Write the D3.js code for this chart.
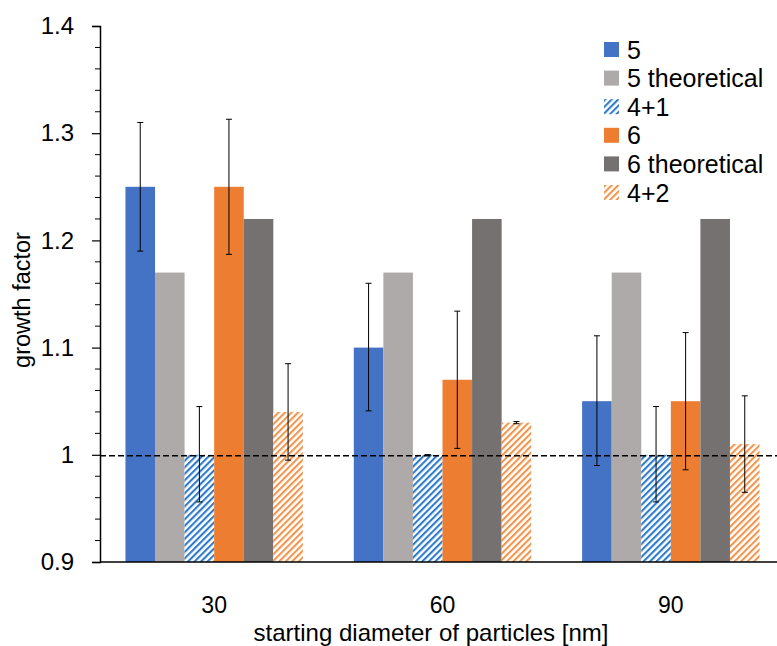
<!DOCTYPE html>
<html><head><meta charset="utf-8">
<script src="https://cdn.jsdelivr.net/npm/d3@7"></script>
<style>body{margin:0;background:#fff}svg{display:block}text{font-family:"Liberation Sans",Arial,sans-serif}</style>
</head><body>
<svg id="c" width="777" height="646"></svg>
<script>
const categories = ["30","60","90"];
const seriesNames = ["5","5 theoretical","4+1","6","6 theoretical","4+2"];
const values = {
  "5":            [1.25, 1.10, 1.05],
  "5 theoretical":[1.17, 1.17, 1.17],
  "4+1":          [1.00, 1.00, 1.00],
  "6":            [1.25, 1.07, 1.05],
  "6 theoretical":[1.22, 1.22, 1.22],
  "4+2":          [1.04, 1.03, 1.01]
};
const errLow = {
  "5":[1.19,1.041,0.99], "4+1":[0.956,1.0,0.956], "6":[1.187,1.006,0.986], "4+2":[0.995,1.029,0.965]
};
const errHigh = {
  "5":[1.31,1.16,1.111], "4+1":[1.045,1.0,1.045], "6":[1.313,1.134,1.114], "4+2":[1.085,1.031,1.055]
};
const yTicks = [0.9,1.0,1.1,1.2,1.3,1.4];
const yTickLabels = ["0.9","1","1.1","1.2","1.3","1.4"];
const baseline = 1.0;

const colors = {"5":"#4472C4","5 theoretical":"#AEAAAA","4+1":"url(#hBlue)","6":"#ED7D31","6 theoretical":"#767171","4+2":"url(#hOrange)"};

const svg = d3.select("#c");
const defs = svg.append("defs");
function hatch(id, col){
  const p = defs.append("pattern").attr("id",id).attr("patternUnits","userSpaceOnUse")
    .attr("width",4.6).attr("height",4.6).attr("patternTransform","rotate(45)");
  p.append("rect").attr("width",4.6).attr("height",4.6).attr("fill","#fff");
  p.append("rect").attr("x",0).attr("width",2.1).attr("height",4.6).attr("fill",col);
}
hatch("hBlue","#2E7CC8");
hatch("hOrange","#F0964E");

const L=100, R=785, T=26, B=562;
const x0 = d3.scaleBand().domain(categories).range([L,R]).paddingInner(0.223).paddingOuter(0.1115);
const x1 = d3.scaleBand().domain(seriesNames).range([0,x0.bandwidth()]);
const y = d3.scaleLinear().domain([0.9,1.4]).range([B,T]);

// bars
const g = svg.append("g");
seriesNames.forEach(s=>{
  g.selectAll(null).data(categories).enter().append("rect")
    .attr("x",c=>x0(c)+x1(s)).attr("width",x1.bandwidth())
    .attr("y",(c,i)=>y(values[s][i])).attr("height",(c,i)=>y(0.9)-y(values[s][i]))
    .attr("fill",colors[s]);
});

// dashed line
svg.append("line").attr("x1",L).attr("x2",777).attr("y1",y(baseline)+1).attr("y2",y(baseline)+1)
  .attr("stroke","#000").attr("stroke-width",1.5).attr("stroke-dasharray","6,3");

// error bars
Object.keys(errLow).forEach(s=>{
  categories.forEach((c,i)=>{
    const cx = x0(c)+x1(s)+x1.bandwidth()/2;
    const lo=y(errLow[s][i]), hi=y(errHigh[s][i]);
    const eg = svg.append("g").attr("stroke","#000").attr("stroke-width",1);
    eg.append("line").attr("x1",cx).attr("x2",cx).attr("y1",lo).attr("y2",hi);
    eg.append("line").attr("x1",cx-3).attr("x2",cx+3).attr("y1",lo).attr("y2",lo);
    eg.append("line").attr("x1",cx-3).attr("x2",cx+3).attr("y1",hi).attr("y2",hi);
  });
});

// y axis
const yAxis = d3.axisLeft(y).tickValues(yTicks).tickFormat((d,i)=>yTickLabels[i]).tickSize(8).tickPadding(18);
const ya = svg.append("g").attr("transform",`translate(${L},0)`).call(yAxis);
ya.select(".domain").attr("stroke","#000").attr("stroke-width",1.5);
ya.selectAll(".tick line").attr("stroke","#000").attr("stroke-width",1.2);
ya.selectAll(".tick text").attr("font-size",24).attr("fill","#000").attr("font-family","Liberation Sans, Arial, sans-serif");
const minor = d3.range(0.92,1.4,0.02).filter(v=>Math.abs(Math.round(v*10)-v*10)>0.01);
svg.append("g").selectAll("line").data(minor).enter().append("line")
  .attr("x1",L-5).attr("x2",L).attr("y1",d=>y(d)).attr("y2",d=>y(d)).attr("stroke","#000").attr("stroke-width",1);

// x axis line
svg.append("line").attr("x1",L).attr("x2",777).attr("y1",B).attr("y2",B).attr("stroke","#000").attr("stroke-width",1.5);
svg.append("g").selectAll("text").data(categories).enter().append("text")
  .attr("x",c=>x0(c)+x0.bandwidth()/2).attr("y",613).attr("text-anchor","middle")
  .attr("font-size",23).attr("fill","#000").text(c=>c);

// titles
svg.append("text").attr("x",431).attr("y",641).attr("text-anchor","middle").attr("font-size",24).attr("fill","#000")
  .text("starting diameter of particles [nm]");
svg.append("text").attr("transform","translate(30,300) rotate(-90)").attr("text-anchor","middle")
  .attr("font-size",23.5).attr("fill","#000").text("growth factor");

// legend
const lg = svg.append("g").attr("transform","translate(604,42)");
seriesNames.forEach((s,i)=>{
  const row = lg.append("g").attr("transform",`translate(0,${i*28.6})`);
  row.append("rect").attr("width",15).attr("height",15).attr("fill",colors[s]);
  row.append("text").attr("x",23).attr("y",16.5).attr("font-size",25).attr("fill","#000").text(s);
});
</script>
</body></html>
